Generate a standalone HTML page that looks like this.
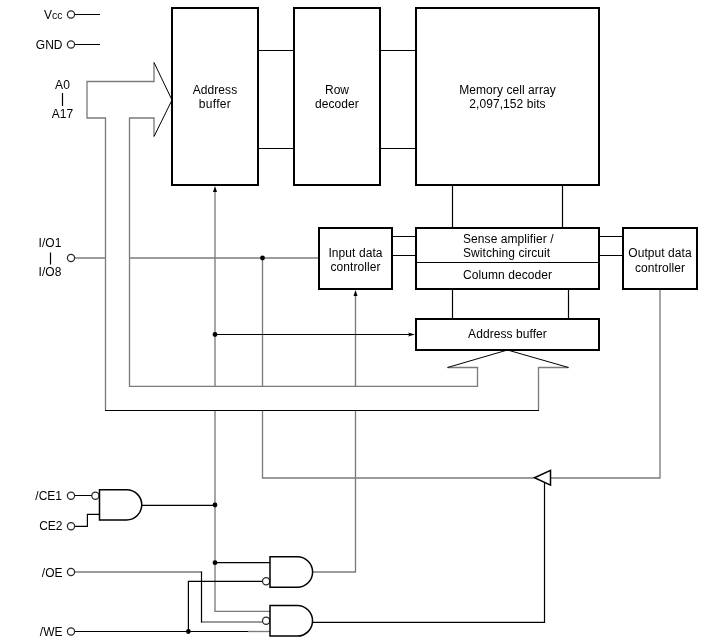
<!DOCTYPE html>
<html>
<head>
<meta charset="utf-8">
<title>Block diagram</title>
<style>
html,body{margin:0;padding:0;background:#fff;}
body{width:725px;height:642px;overflow:hidden;}
svg{display:block;will-change:transform;}
text{font-family:"Liberation Sans",Arial,sans-serif;font-size:12px;fill:#000;}
.c{text-anchor:middle;letter-spacing:0.07px;}
.s{text-anchor:start;letter-spacing:0.07px;}
.e{text-anchor:end;}
.k{stroke:#000;stroke-width:1.2;fill:none;}
.g{stroke:#7b7b7b;stroke-width:1.33;fill:none;}
.b{stroke:#000;stroke-width:2;fill:#fff;}
.t{stroke:#000;stroke-width:1.5;fill:#fff;}
.p{stroke:#2a2a2a;stroke-width:1.25;fill:#fff;}
.d{fill:#000;stroke:none;}
</style>
</head>
<body>
<svg width="725" height="642" viewBox="0 0 725 642">
<rect x="0" y="0" width="725" height="642" fill="#fff"/>

<!-- gray signal lines drawn beneath the bus -->
<path class="g" d="M75,258H319.5"/>
<path class="g" d="M215,191V611.3H270"/>
<path class="g" d="M262.5,258V478H534"/>
<path class="g" d="M550.5,478H660V290"/>

<path class="g" d="M355.5,572.6V296"/>

<!-- address bus (white filled so it hides lines beneath) -->
<path fill="#fff" stroke="none" d="M87,81.5H154V62.5L172,100L154,136.5V118H129.5V386.5H477.5V367.5H447.5L507.5,350L568.5,367.5H538.5V410.5H105.5V118H87Z"/>
<path class="g" d="M154,62.5V81.5H87V118H105.5V410.5"/>
<path class="g" d="M154,136.5V118H129.5V386.3H477.5V367.5H447.5"/>
<path class="g" d="M568.5,367.5H538.5V410.5"/>
<path class="k" style="stroke-width:1" d="M154,62.5L172,100L154,136.5"/>
<path class="k" style="stroke-width:1" d="M447.5,367.5L507.5,350L568.5,367.5"/>
<path class="k" d="M105,410.5H539"/>

<!-- boxes -->
<rect class="b" x="172" y="8" width="86" height="177"/>
<rect class="b" x="294" y="8" width="86" height="177"/>
<rect class="b" x="416" y="8" width="183" height="177"/>
<rect class="b" x="319" y="228" width="73" height="61"/>
<rect class="b" x="416" y="228" width="183" height="61"/>
<rect class="b" x="623" y="228" width="74" height="61"/>
<rect class="b" x="416" y="319" width="183" height="31"/>
<path class="k" d="M417,262.5H598"/>

<!-- black connectors -->
<path class="k" d="M259,50.5H293M259,148.5H293M381,50.5H415M381,148.5H415"/>
<path class="k" d="M393,236.5H415M393,255.5H415M600,236.5H622M600,255.5H622"/>
<path class="k" d="M452.5,186V227M562.5,186V227M452.5,290V318M568.5,290V318"/>

<!-- arrow into lower address buffer -->
<path class="k" d="M215,334.5H410"/>
<path class="d" d="M415,334.5L408,332.5L409.5,334.5L408,336.5Z"/>
<circle class="d" cx="215" cy="334.5" r="2.4"/>
<circle class="d" cx="262.5" cy="258" r="2.4"/>

<!-- arrowheads (up) -->
<path class="d" d="M215,186L213,192H217Z"/>
<path class="d" d="M355.5,290L353.5,296H357.5Z"/>

<!-- power pins -->
<path class="k" d="M75,14.5H100M75,44.5H100"/>
<circle class="p" cx="71" cy="14.5" r="3.6"/>
<circle class="p" cx="71" cy="44.5" r="3.6"/>
<circle class="p" cx="71" cy="258" r="3.6"/>

<!-- CE gate -->
<path class="k" d="M75,495.5H92M75,526.3H87.4V514.4H99.5"/>
<circle class="p" cx="95.4" cy="495.7" r="3.6"/>
<circle class="p" cx="71" cy="495.7" r="3.6"/>
<circle class="p" cx="71" cy="526.2" r="3.6"/>
<path class="t" d="M99.5,489.7H126.6A15.15,15.15 0 0 1 126.6,520H99.5Z"/>
<path class="k" d="M142,505.4H215"/>
<circle class="d" cx="215" cy="505" r="2.4"/>

<!-- OE / WE -->
<path class="g" d="M75,572H201.5M201.5,622H262.5"/>
<path class="k" d="M201.5,571.4V622.6"/>
<path class="k" d="M75,631.5H248"/>
<path class="g" d="M248,631.5H270"/>
<path class="k" d="M188.4,631.5V581.4H262.5"/>
<circle class="d" cx="188.4" cy="631.5" r="2.4"/>
<circle class="p" cx="71" cy="572" r="3.6"/>
<circle class="p" cx="71" cy="631.5" r="3.6"/>
<path class="k" d="M215,562.7H270"/>
<circle class="d" cx="215" cy="562.7" r="2.4"/>
<path class="g" d="M312.5,572H355.5"/>
<path class="k" d="M312.5,622.4H544.5V483"/>
<circle class="p" cx="266.1" cy="581.2" r="3.6"/>
<circle class="p" cx="266.1" cy="620.7" r="3.6"/>
<path class="t" d="M270,556.8H297.4A15.2,15.2 0 0 1 297.4,587.2H270Z"/>
<path class="t" d="M270,605.6H297.3A15.23,15.23 0 0 1 297.3,636.06H270Z"/>

<!-- tri-state buffer -->
<path class="t" d="M534.5,477.8L550.5,470.4V485.2Z"/>

<!-- labels -->
<text class="e" x="62.5" y="19">V<tspan font-size="10.5">cc</tspan></text>
<text class="e" x="62.5" y="49">GND</text>
<text class="c" x="62.5" y="89">A0</text>
<path class="k" d="M62.5,93V106"/>
<text class="c" x="62.5" y="117.5">A17</text>
<text class="c" x="50" y="246.5">I/O1</text>
<path class="k" d="M50.5,252.5V264.5"/>
<text class="c" x="50" y="275.5">I/O8</text>
<text class="e" x="62" y="499.5">/CE1</text>
<text class="e" x="62.5" y="530">CE2</text>
<text class="e" x="62.5" y="576.5">/OE</text>
<text class="e" x="62.5" y="635.5">/WE</text>

<text class="c" x="215" y="93.5">Address</text>
<text class="c" x="215" y="107.5" style="letter-spacing:0.3px">buffer</text>
<text class="c" x="337" y="93.5">Row</text>
<text class="c" x="337" y="107.5">decoder</text>
<text class="c" x="507.5" y="94">Memory cell array</text>
<text class="c" x="507.5" y="107.5">2,097,152 bits</text>
<text class="c" x="355.5" y="257">Input data</text>
<text class="c" x="355.5" y="270.5">controller</text>
<text class="s" x="463" y="243">Sense amplifier /</text>
<text class="s" x="463" y="257">Switching circuit</text>
<text class="s" x="463" y="278.5">Column decoder</text>
<text class="c" x="660" y="257">Output data</text>
<text class="c" x="660" y="271.5">controller</text>
<text class="c" x="507.5" y="337.5">Address buffer</text>
</svg>
</body>
</html>
